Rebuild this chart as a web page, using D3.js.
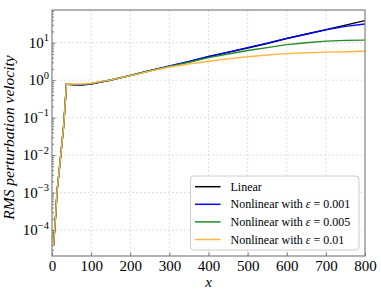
<!DOCTYPE html>
<html>
<head>
<meta charset="utf-8">
<script src="https://cdnjs.cloudflare.com/ajax/libs/d3/7.8.5/d3.min.js"></script>
<style>
  body { margin: 0; background: #fff; }
</style>
</head>
<body>
<div id="chart"></div>
<script>
// x positions of the samples
var xs = [4, 10, 13, 20, 30, 37, 40, 50, 60, 75, 100, 150, 200, 250, 300, 350, 400, 450, 500, 550, 600, 650, 700, 750, 800];

var linearVals = [3.8e-5, 3.2e-4, 1.1e-3, 5.6e-3, 0.063, 0.79, 0.78, 0.76, 0.75, 0.74, 0.79, 1.0, 1.32, 1.78, 2.34, 3.1, 4.2, 5.5, 7.2, 9.5, 12.9, 17.0, 22.4, 29.5, 38.9];
var eps001Vals = [3.8e-5, 3.2e-4, 1.1e-3, 5.6e-3, 0.063, 0.79, 0.78, 0.76, 0.75, 0.75, 0.80, 1.01, 1.34, 1.80, 2.38, 3.15, 4.3, 5.6, 7.4, 9.7, 13.0, 16.8, 21.9, 27.3, 31.6];
var eps005Vals = [3.8e-5, 3.2e-4, 1.1e-3, 5.6e-3, 0.063, 0.79, 0.79, 0.77, 0.76, 0.76, 0.81, 1.01, 1.33, 1.78, 2.34, 3.0, 4.0, 5.0, 6.2, 7.4, 8.9, 10.0, 11.0, 11.5, 11.7];
var eps01Vals = [3.8e-5, 3.2e-4, 1.1e-3, 5.6e-3, 0.063, 0.79, 0.80, 0.79, 0.79, 0.79, 0.83, 1.02, 1.32, 1.74, 2.24, 2.7, 3.2, 3.7, 4.2, 4.7, 5.1, 5.4, 5.6, 5.75, 5.9];

var seriesNames = ["Linear", "Nonlinear with ε = 0.001", "Nonlinear with ε = 0.005", "Nonlinear with ε = 0.01"];
var seriesColors = ["#000000", "#0000ff", "#228b22", "#ffb540"];
var seriesVals = [linearVals, eps001Vals, eps005Vals, eps01Vals];

var xTicks = [0, 100, 200, 300, 400, 500, 600, 700, 800];
var yTicks = [1e-4, 1e-3, 1e-2, 1e-1, 1e0, 1e1];
var yExps = ["−4", "−3", "−2", "−1", "0", "1"];

var svgWidth = 381;
var svgHeight = 291;
var margin = { top: 10, right: 16, bottom: 35, left: 52 };
var width = svgWidth - margin.left - margin.right;
var height = svgHeight - margin.top - margin.bottom;

var serif = "Liberation Serif, DejaVu Serif, serif";

var svg = d3.select("#chart")
    .append("svg")
    .attr("width", svgWidth)
    .attr("height", svgHeight);

var g = svg.append("g")
    .attr("transform", `translate(${margin.left}, ${margin.top})`);

var xScale = d3.scaleLinear()
    .domain([0, 800])
    .range([0, width]);

var yScale = d3.scaleLog()
    .domain([2.03e-5, 74.5])
    .range([height, 0]);

// grid
g.append("g").selectAll("line")
    .data(xTicks.slice(1, -1))
    .enter().append("line")
    .attr("x1", d => xScale(d)).attr("x2", d => xScale(d))
    .attr("y1", 0).attr("y2", height)
    .attr("stroke", "#d8d8d8").attr("stroke-width", 0.8)
    .attr("stroke-dasharray", "2,2");

g.append("g").selectAll("line")
    .data(yTicks)
    .enter().append("line")
    .attr("x1", 0).attr("x2", width)
    .attr("y1", d => yScale(d)).attr("y2", d => yScale(d))
    .attr("stroke", "#d8d8d8").attr("stroke-width", 0.8)
    .attr("stroke-dasharray", "2,2");

// minor y ticks
var minorTicks = [];
for (var e = -5; e <= 1; e++) {
    for (var m = 2; m <= 9; m++) {
        var v = m * Math.pow(10, e);
        if (v > yScale.domain()[0] && v < yScale.domain()[1]) minorTicks.push(v);
    }
}

var yMinor = d3.axisLeft(yScale).tickValues(minorTicks).tickSize(-2).tickFormat("");
g.append("g").call(yMinor).call(s => s.select(".domain").remove())
    .selectAll("line").attr("stroke", "#777");

// major axes
var yAxis = d3.axisLeft(yScale).tickValues(yTicks).tickSize(-3.5).tickFormat("");
g.append("g").call(yAxis).call(s => s.select(".domain").remove())
    .selectAll("line").attr("stroke", "#777");

var xAxis = d3.axisBottom(xScale).tickValues(xTicks).tickSize(-3.5).tickPadding(4);
var xAxisG = g.append("g")
    .attr("transform", `translate(0, ${height})`)
    .call(xAxis);
xAxisG.select(".domain").remove();
xAxisG.selectAll("line").attr("stroke", "#777");
xAxisG.selectAll("text")
    .style("font-family", serif)
    .style("font-size", "15px")
    .attr("fill", "#000");

// y tick labels as 10^n
var yLab = g.append("g").selectAll("text")
    .data(yTicks)
    .enter().append("text")
    .attr("x", -3)
    .attr("y", d => yScale(d) + 5)
    .attr("text-anchor", "end")
    .style("font-family", serif)
    .style("font-size", "15px");
yLab.append("tspan").text("10");
yLab.append("tspan")
    .attr("dy", -6.5)
    .style("font-size", "10.5px")
    .text((d, i) => yExps[i]);

// lines
var line = d3.line()
    .x((d, i) => xScale(xs[i]))
    .y(d => yScale(d));

g.append("g").selectAll("path")
    .data(seriesVals)
    .enter().append("path")
    .attr("d", d => line(d))
    .attr("fill", "none")
    .attr("stroke", (d, i) => seriesColors[i])
    .attr("stroke-width", 1.4);

// frame
g.append("rect")
    .attr("width", width).attr("height", height)
    .attr("fill", "none").attr("stroke", "#808080").attr("stroke-width", 1.2);

// legend
var legend = g.append("g")
    .attr("transform", `translate(${xScale(354)}, 166)`);

legend.append("rect")
    .attr("width", 168.5).attr("height", 74)
    .attr("rx", 3)
    .attr("fill", "#fff").attr("fill-opacity", 0.85)
    .attr("stroke", "#cccccc");

var items = legend.selectAll(".item")
    .data(seriesNames)
    .enter().append("g")
    .attr("transform", (d, i) => `translate(0, ${10.7 + i * 17.6})`);

items.append("line")
    .attr("x1", 4.5).attr("x2", 30)
    .attr("stroke", (d, i) => seriesColors[i])
    .attr("stroke-width", 1.5);

var itemText = items.append("text")
    .attr("x", 40)
    .attr("y", 4)
    .style("font-family", serif)
    .style("font-size", "12px");
itemText.each(function (d) {
    var t = d3.select(this);
    var parts = d.split("ε");
    t.append("tspan").text(parts[0]);
    if (parts.length > 1) {
        t.append("tspan").style("font-style", "italic").text("ε");
        t.append("tspan").text(parts[1]);
    }
});

// axis titles
g.append("text")
    .attr("x", width / 2)
    .attr("y", height + 31)
    .attr("text-anchor", "middle")
    .style("font-family", serif)
    .style("font-style", "italic")
    .style("font-size", "15px")
    .text("x");

svg.append("text")
    .attr("transform", "rotate(-90)")
    .attr("x", -137.5)
    .attr("y", 14)
    .attr("text-anchor", "middle")
    .style("font-family", serif)
    .style("font-style", "italic")
    .style("font-size", "15.5px")
    .text("RMS perturbation velocity");
</script>
</body>
</html>
